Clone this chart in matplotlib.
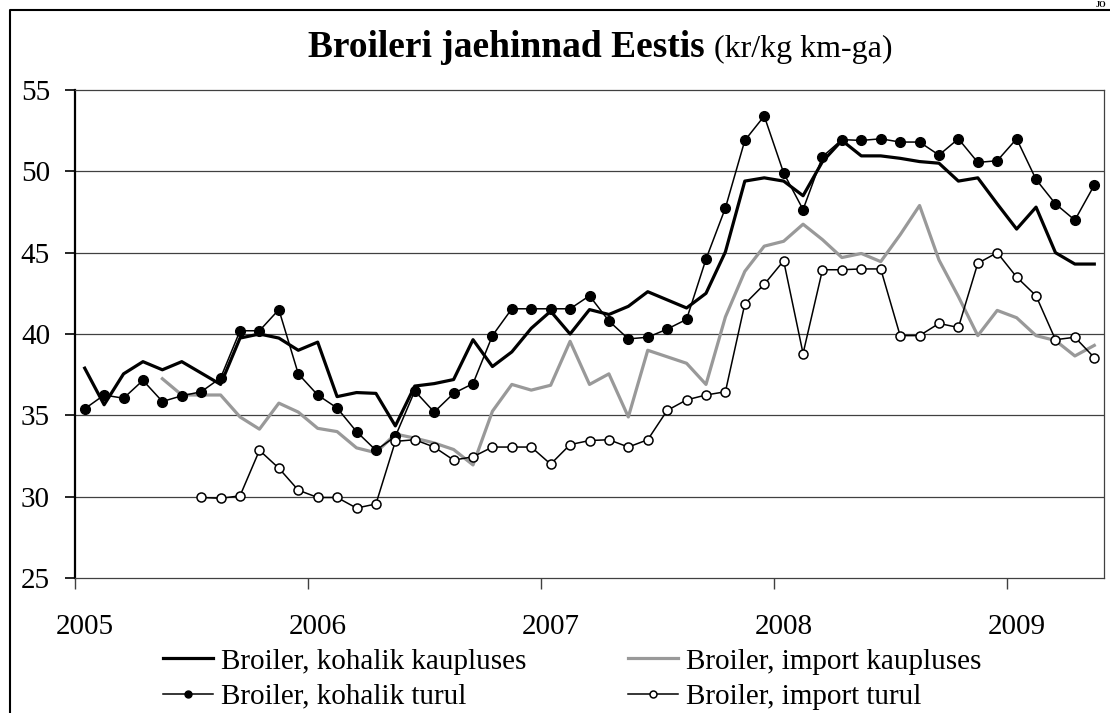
import numpy as np
import matplotlib
matplotlib.use("Agg")
import matplotlib.pyplot as plt
from matplotlib.lines import Line2D

plt.rcParams['font.family'] = ['Liberation Serif', 'DejaVu Serif']

# kuud alates 2005 jaanuarist kuni 2009 maini
years = ['2005', '2006', '2007', '2008', '2009']
n_months = 53

kohalik_kauplustes = [37.9, 35.65, 37.55, 38.3, 37.8, 38.3, 37.6, 36.9, 39.75, 40.0,
                      39.75, 39.0, 39.5, 36.15, 36.4, 36.35, 34.35, 36.8, 36.95, 37.2,
                      39.65, 38.0, 38.9, 40.35, 41.4, 40.0, 41.5, 41.2, 41.7, 42.6,
                      42.1, 41.6, 42.5, 45.05, 49.4, 49.6, 49.4, 48.5, 50.6, 51.9,
                      50.95, 50.95, 50.8, 50.6, 50.5, 49.4, 49.6, 48.0, 46.45, 47.8,
                      45.0, 44.3, 44.3]

import_kauplustes = [np.nan, np.nan, np.nan, np.nan, 37.25, 36.25, 36.25, 36.25, 34.9, 34.15,
                     35.75, 35.2, 34.2, 34.0, 33.0, 32.7, 33.85, 33.6, 33.3, 32.9,
                     31.95, 35.25, 36.9, 36.55, 36.85, 39.55, 36.9, 37.55, 34.9, 39.0,
                     38.6, 38.2, 36.9, 41.05, 43.85, 45.4, 45.7, 46.75, 45.8, 44.7,
                     44.95, 44.45, 46.1, 47.9, 44.55, 42.3, 39.9, 41.45, 41.0, 39.9,
                     39.6, 38.65, 39.3]

kohalik_turul = [35.4, 36.25, 36.05, 37.15, 35.85, 36.2, 36.45, 37.3, 40.2, 40.2,
                 41.5, 37.55, 36.25, 35.45, 34.0, 32.85, 33.7, 36.5, 35.2, 36.35,
                 36.95, 39.9, 41.55, 41.55, 41.55, 41.55, 42.35, 40.8, 39.7, 39.8,
                 40.3, 40.9, 44.6, 47.75, 51.9, 53.4, 49.9, 47.65, 50.9, 51.95,
                 51.9, 52.0, 51.8, 51.8, 51.0, 52.0, 50.55, 50.65, 52.0, 49.5,
                 48.0, 47.0, 49.15]

import_turul = [np.nan, np.nan, np.nan, np.nan, np.nan, np.nan, 29.95, 29.9, 30.05, 32.85,
                31.75, 30.4, 29.95, 29.95, 29.3, 29.55, 33.4, 33.5, 33.05, 32.25,
                32.45, 33.05, 33.05, 33.05, 32.0, 33.2, 33.45, 33.5, 33.05, 33.5,
                35.3, 35.95, 36.25, 36.45, 41.85, 43.05, 44.5, 38.8, 43.95, 43.95,
                44.0, 44.0, 39.9, 39.9, 40.65, 40.4, 44.35, 45.0, 43.5, 42.35,
                39.65, 39.8, 38.55]

x = np.arange(n_months) + 0.5

fig = plt.figure(figsize=(11.1, 7.13), dpi=100)
ax = fig.add_axes([75 / 1110, 1 - 578 / 713, (1104 - 75) / 1110, (578 - 90) / 713])

l1, = ax.plot(x, kohalik_kauplustes, color='black', lw=2.3, zorder=3,
              label='Broiler, kohalik kaupluses')
l2, = ax.plot(x, import_kauplustes, color='#999999', lw=2.3, zorder=2,
              label='Broiler, import kaupluses')
l3, = ax.plot(x, kohalik_turul, color='black', lw=1.1, marker='o', ms=7,
              mfc='black', mec='black', zorder=4, label='Broiler, kohalik turul')
l4, = ax.plot(x, import_turul, color='black', lw=1.1, marker='o', ms=6.5,
              mfc='white', mec='black', mew=1.1, zorder=5, label='Broiler, import turul')

ax.set_xlim(0, n_months)
ax.set_ylim(25, 55)
ax.set_yticks(range(25, 56, 5))
for yv in range(30, 55, 5):
    ax.axhline(yv, color='#404040', lw=0.9, zorder=1)

# aastate piirid tikkidena, sildid jaanuari keskel
ax.set_xticks(range(0, n_months, 12))
ax.set_xticklabels([])
ax.set_xticks([i * 12 + 0.5 for i in range(len(years))], minor=True)
ax.set_xticklabels(years, minor=True)
ax.tick_params(axis='x', which='major', direction='out', length=8, width=1, color='#404040')
ax.tick_params(axis='x', which='minor', length=0, pad=26, labelsize=21)
ax.tick_params(axis='y', direction='out', length=7, width=1.2, pad=11, labelsize=21)

for side in ['top', 'right', 'bottom']:
    ax.spines[side].set_color('#404040')
    ax.spines[side].set_linewidth(0.9)
ax.spines['left'].set_linewidth(1.6)

# pealkiri
fig.text(705 / 1110, 1 - 57 / 713, 'Broileri jaehinnad Eestis', ha='right',
         va='baseline', fontsize=27, fontweight='bold')
fig.text(714 / 1110, 1 - 57 / 713, '(kr/kg km-ga)', ha='left',
         va='baseline', fontsize=23)

# legend kahes veerus
leg_kw = dict(frameon=False, fontsize=21, borderpad=0, borderaxespad=0,
              handlelength=1.7, handletextpad=0.3, labelspacing=0.3, loc='center left')
leg1 = fig.legend(handles=[l1, l3], bbox_to_anchor=(163 / 1110, 1 - 679 / 713), **leg_kw)
leg2 = fig.legend(handles=[l2, l4], bbox_to_anchor=(628 / 1110, 1 - 679 / 713), **leg_kw)
for lg in (leg1, leg2):
    for h in lg.legend_handles:
        if h.get_marker() not in (None, 'None', ''):
            h.set_markersize(5)

# raam ümber joonise
fig.add_artist(Line2D([9.5 / 1110, 9.5 / 1110, 1], [0, 1 - 10 / 713, 1 - 10 / 713],
                      transform=fig.transFigure, color='black', lw=1.5))
fig.text(1106 / 1110, 1 - 1 / 713, 'JO', ha='right', va='top',
         fontsize=6, fontweight='bold')

fig.savefig('out.png', dpi=100)
